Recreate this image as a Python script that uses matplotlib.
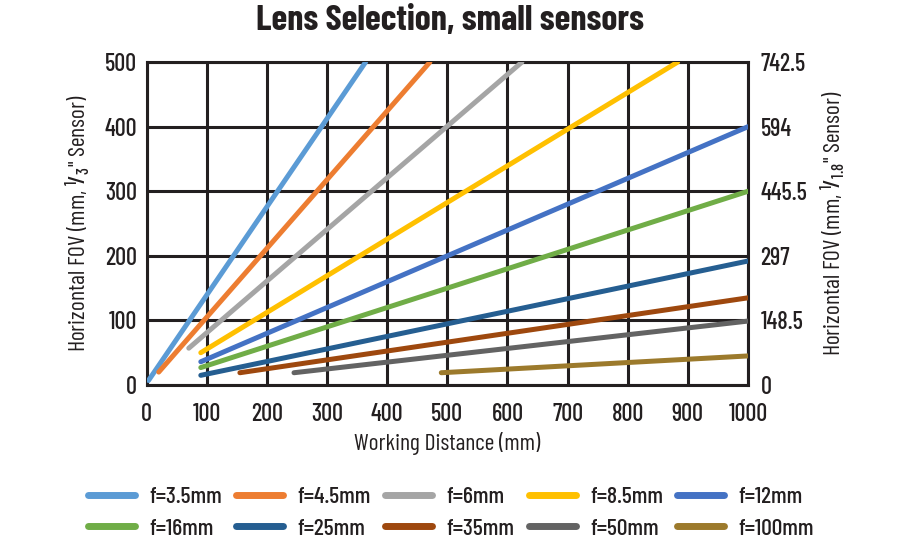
import matplotlib
matplotlib.use("Agg")
import matplotlib.pyplot as plt
from matplotlib.ticker import FuncFormatter

plt.rcParams['font.family'] = ['Barlow Condensed', 'DejaVu Sans']
plt.rcParams['font.weight'] = 500
plt.rcParams['mathtext.fontset'] = 'custom'
plt.rcParams['mathtext.rm'] = 'Barlow Condensed:medium'
plt.rcParams['mathtext.it'] = 'Barlow Condensed:medium'

# lens data: start / end of each line (working distance mm, FOV mm on 1/3" sensor)
labels = ["f=3.5mm", "f=4.5mm", "f=6mm", "f=8.5mm", "f=12mm",
          "f=16mm", "f=25mm", "f=35mm", "f=50mm", "f=100mm"]
colors = ["#5B9BD5", "#ED7D31", "#A5A5A5", "#FFC000", "#4472C4",
          "#70AD47", "#255E91", "#9E480E", "#636363", "#9C7A2C"]
wd_start = [3, 20, 70, 90, 90, 90, 90, 155, 245, 490]
wd_end = [364, 471, 624, 883, 1000, 1000, 1000, 1000, 1000, 1000]
fov_start = [7, 20, 57, 50, 36, 27, 15, 19, 19, 19]
fov_end = [500, 500, 500, 500, 400, 300, 192, 135, 99, 45]

right_ticks = [0, 148.5, 297, 445.5, 594, 742.5]

ink = '#231F20'

fig = plt.figure(figsize=(9, 5.5), dpi=100)
ax = fig.add_axes([0.163, 0.30, 0.668, 0.587])

lines = []
for i in range(len(labels)):
    ln, = ax.plot([wd_start[i], wd_end[i]], [fov_start[i], fov_end[i]],
                  color=colors[i], lw=3.6, solid_capstyle='round', label=labels[i],
                  zorder=3)
    lines.append(ln)

ax.set_xlim(0, 1000)
ax.set_ylim(0, 500)
ax.set_xticks(range(0, 1001, 100))
ax.set_yticks(range(0, 501, 100))
ax.grid(True, color=ink, lw=2.2)
for s in ax.spines.values():
    s.set_color(ink)
    s.set_linewidth(2.2)
ax.tick_params(axis='y', length=0, labelsize=17.5, pad=7, colors=ink)
ax.tick_params(axis='x', length=0, labelsize=17.5, pad=13, colors=ink)
ax.set_xlabel("Working Distance (mm)", fontsize=17, color=ink, labelpad=4)
ax.set_ylabel(r'Horizontal FOV (mm, $^{1}\!/_{3}$" Sensor)', fontsize=17,
              color=ink, labelpad=9)

ax2 = ax.twinx()
ax2.set_ylim(0, 742.5)
ax2.set_yticks(right_ticks)
ax2.yaxis.set_major_formatter(FuncFormatter(lambda v, p: "%g" % v))
ax2.tick_params(length=0, labelsize=17.5, pad=9, colors=ink)
for s in ax2.spines.values():
    s.set_visible(False)
ax2.set_ylabel(r'Horizontal FOV (mm, $^{1}\!/_{1.8}$" Sensor)', fontsize=17,
               color=ink, labelpad=8)

fig.suptitle("Lens Selection, small sensors", fontsize=26, fontweight='bold',
             color=ink, y=0.99)

# legend filled row by row (5 per row)
order = [0, 5, 1, 6, 2, 7, 3, 8, 4, 9]
leg = ax.legend([lines[i] for i in order], [labels[i] for i in order],
                loc='upper center', bbox_to_anchor=(0.506, -0.25), ncol=5,
                frameon=False, fontsize=17, handlelength=2.0, handletextpad=0.6,
                columnspacing=0.6, labelspacing=0.45, labelcolor=ink)
for h in leg.get_lines():
    h.set_linewidth(5)
    h.set_solid_capstyle('round')

fig.savefig("out.png", dpi=100)
